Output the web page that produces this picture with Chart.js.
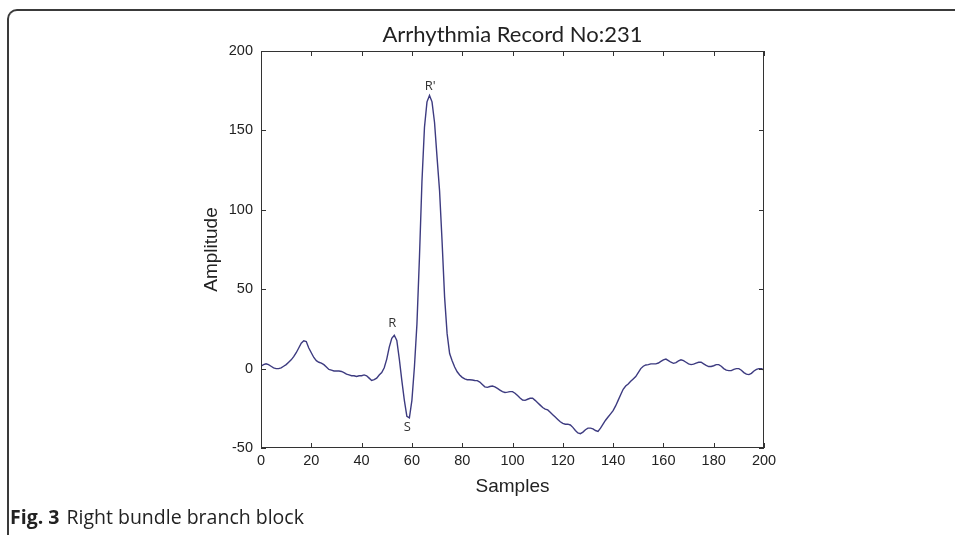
<!DOCTYPE html>
<html>
<head>
<meta charset="utf-8">
<script src="https://cdn.jsdelivr.net/npm/chart.js@4.4.1/dist/chart.umd.min.js"></script>
<style>
  html, body { margin: 0; padding: 0; background: #fff; }
  #wrap { position: relative; width: 955px; height: 535px; overflow: hidden; }
  #frame { position: absolute; left: 7px; top: 9px; width: 1000px; height: 600px;
           border-top: 2px solid #3a3a3a; border-left: 2px solid #3a3a3a; border-top-left-radius: 10px; }
  #chart { position: absolute; left: 0; top: 0; }
  #caption { position: absolute; left: 10px; top: 504px; font: 19.5px "Open Sans", sans-serif; color: #222; line-height: 26px; }
  #caption b { font-weight: 700; margin-right: 7px; }
</style>
</head>
<body>
<div id="wrap">
  <div id="frame"></div>
  <canvas id="chart" width="955" height="535"></canvas>
  <div id="caption"><b>Fig. 3</b>Right bundle branch block</div>
</div>
<script>
// samples 0..200, amplitude
const samples = Array.from({ length: 201 }, (_, i) => i);
const amplitude = [
  1.5, 2.5, 3, 2.5, 1.5, 0.5, 0, 0, 0.5, 1.5,            // 0-9
  2.5, 4, 5.5, 7.5, 10, 13, 16, 17.5, 17, 13,            // 10-19
  10, 7, 5, 4, 3.5, 2.5, 1, -0.5, -1, -1.5,              // 20-29
  -1.5, -1.5, -1.8, -2.5, -3.5, -4, -4.5, -4.5, -5, -4.5, // 30-39
  -4.5, -4, -4.5, -6, -7.5, -7, -6, -4, -2.5, 0.5,       // 40-49
  6, 13.5, 19, 21, 17.7, 6, -7.6, -20, -30, -31,         // 50-59
  -20, 1, 28, 70, 118, 152, 168, 172, 168, 155,          // 60-69
  133, 112, 80, 45, 22, 9.5, 5, 1, -2, -4,               // 70-79
  -5.5, -6.5, -7, -7, -7.2, -7.5, -7.6, -8.5, -10, -11.5, // 80-89
  -11.8, -11.3, -11, -11.5, -12.5, -13.5, -14.5, -15, -14.8, -14.5, // 90-99
  -14.5, -15.5, -17, -18.5, -19.8, -20, -19.3, -18.7, -18.7, -20,  // 100-109
  -21.5, -23, -24.5, -25.5, -26, -27.5, -29, -30.5, -32, -33.5,    // 110-119
  -34.5, -35, -35, -35.5, -37, -39, -40.5, -41, -40, -38.5,        // 120-129
  -37.5, -37.5, -38, -39, -39.5, -37.5, -35, -32.5, -30.5, -28.5,  // 130-139
  -26.5, -23.5, -20, -16.5, -13, -11, -9.7, -8, -6.5, -5,          // 140-149
  -2.5, 0, 1.5, 2.3, 2.5, 3, 3, 3, 3.5, 4.5,                       // 150-159
  5.5, 6, 5, 4, 3.3, 3.8, 4.8, 5.5, 5, 4,                          // 160-169
  3, 2.5, 2.8, 3.5, 4, 4, 3, 2, 1.3, 1.3,                          // 170-179
  1.8, 2.5, 2.5, 1.5, 0, -1, -1.3, -1.3, -0.5, 0,                  // 180-189
  0, -1, -2.5, -3.5, -3.8, -3, -1.5, -0.5, 0, 0,                   // 190-199
  -1                                                               // 200
];
const xTicks = [0, 20, 40, 60, 80, 100, 120, 140, 160, 180, 200];
const yTicks = [-50, 0, 50, 100, 150, 200];
const peakLabels = ["R", "S", "R'"];
const peakX = [52.2, 58.2, 67.3];
const peakY = [28.5, -37, 178];

const titleText = "Arrhythmia Record No:231";
const xTitle = "Samples";
const yTitle = "Amplitude";

const axisColor = "#333";

// inward ticks on all four sides, titles and peak labels
const decorations = {
  id: "decorations",
  afterDraw(chart) {
    const { ctx, chartArea: a, scales: { x, y } } = chart;
    ctx.save();
    ctx.strokeStyle = axisColor;
    ctx.lineWidth = 1;
    ctx.strokeRect(a.left + 0.5, a.top + 0.5, a.right - a.left - 1, a.bottom - a.top - 1);
    ctx.beginPath();
    xTicks.forEach(v => {
      const px = Math.round(x.getPixelForValue(v)) + 0.5;
      ctx.moveTo(px, a.bottom); ctx.lineTo(px, a.bottom - 5);
      ctx.moveTo(px, a.top); ctx.lineTo(px, a.top + 5);
    });
    yTicks.forEach(v => {
      const py = Math.round(y.getPixelForValue(v)) + 0.5;
      ctx.moveTo(a.left, py); ctx.lineTo(a.left + 5, py);
      ctx.moveTo(a.right, py); ctx.lineTo(a.right - 5, py);
    });
    ctx.stroke();

    ctx.fillStyle = "#222";
    ctx.textAlign = "center";
    ctx.textBaseline = "middle";
    ctx.font = '22px Lato, "Open Sans", sans-serif';
    ctx.fillText(titleText, (a.left + a.right) / 2, 35);

    ctx.font = '19px "Liberation Sans", Arial, sans-serif';
    ctx.fillText(xTitle, (a.left + a.right) / 2, 487);
    ctx.save();
    ctx.translate(212, (a.top + a.bottom) / 2);
    ctx.rotate(-Math.PI / 2);
    ctx.fillText(yTitle, 0, 0);
    ctx.restore();

    ctx.font = '13px "Open Sans", sans-serif';
    ctx.fillStyle = "#333";
    peakLabels.forEach((t, i) => {
      ctx.fillText(t, x.getPixelForValue(peakX[i]), y.getPixelForValue(peakY[i]));
    });
    ctx.restore();
  }
};

new Chart(document.getElementById("chart").getContext("2d"), {
  type: "line",
  data: {
    datasets: [{
      data: samples.map((s, i) => ({ x: s, y: amplitude[i] })),
      borderColor: "#3d3b80",
      borderWidth: 1.4,
      pointRadius: 0,
      tension: 0
    }]
  },
  options: {
    responsive: false,
    animation: false,
    layout: { padding: { left: 198, top: 51, right: 191, bottom: 0 } },
    plugins: { legend: { display: false }, tooltip: { enabled: false } },
    scales: {
      x: {
        type: "linear", min: 0, max: 200,
        afterBuildTicks: s => { s.ticks = xTicks.map(v => ({ value: v })); },
        afterFit: s => { s.height = 87; },
        grid: { display: false, drawTicks: false },
        border: { display: false },
        ticks: { padding: 4, color: "#222", font: { family: '"Liberation Sans", Arial', size: 14.5 }, maxRotation: 0 }
      },
      y: {
        min: -50, max: 200,
        afterBuildTicks: s => { s.ticks = yTicks.map(v => ({ value: v })); },
        afterFit: s => { s.width = 63; },
        grid: { display: false, drawTicks: false },
        border: { display: false },
        ticks: { padding: 8, color: "#222", font: { family: '"Liberation Sans", Arial', size: 14.5 } }
      }
    }
  },
  plugins: [decorations]
});
</script>
</body>
</html>
